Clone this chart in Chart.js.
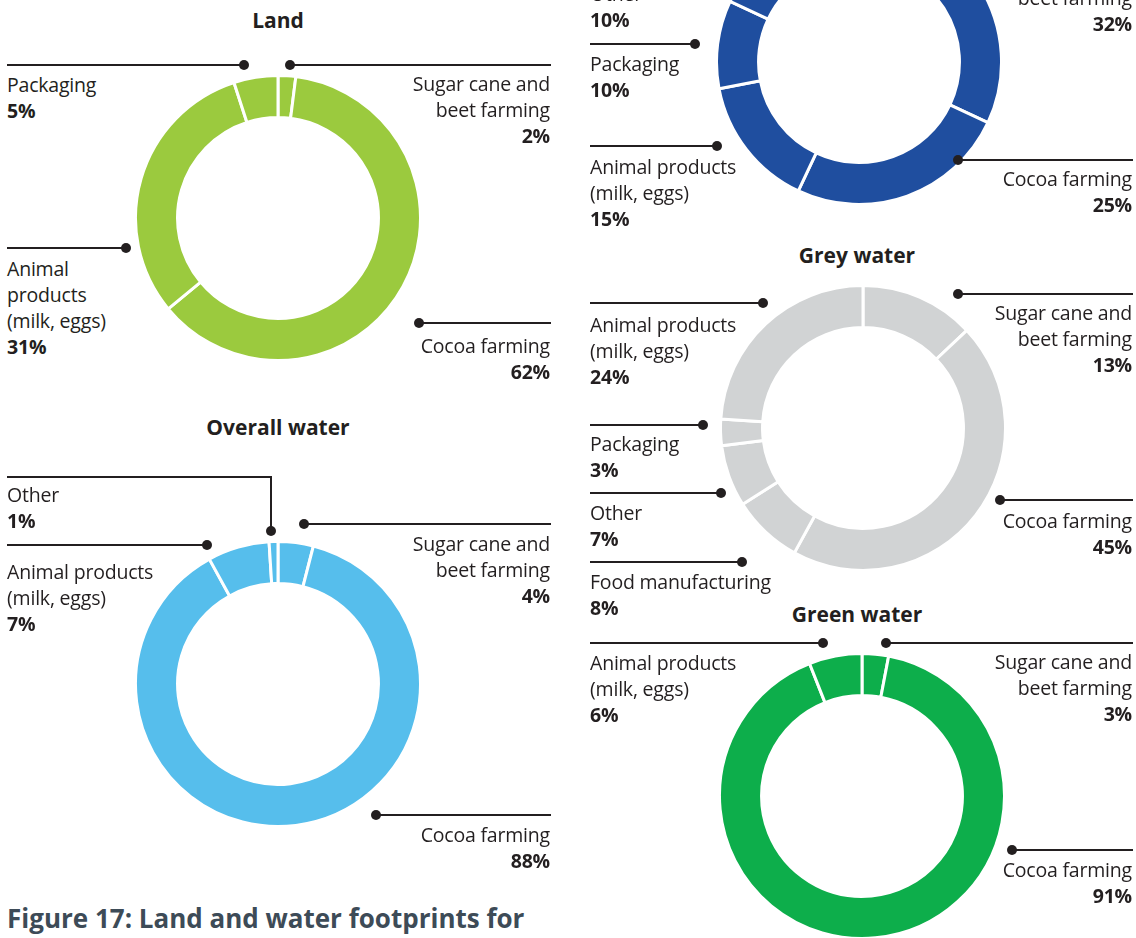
<html>
<head>
    <meta charset="utf-8" />
    <title>Land and water footprints</title>
    <script src="https://cdn.jsdelivr.net/npm/chart.js"></script>
    <style>
        body { margin: 0; background: #fff; }
        #page { position: relative; width: 1136px; height: 938px; overflow: hidden;
                font-family: 'Open Sans', sans-serif; color: #231f20; }
        canvas { position: absolute; }
        .txt { position: absolute; font-size: 19.5px; line-height: 26px; white-space: pre; letter-spacing: -0.2px; }
        .title { position: absolute; font-weight: 700; font-size: 21px; line-height: 26px;
                 transform: translateX(-50%); white-space: pre; }
        .ln { position: absolute; height: 2px; background: #231f20; }
        .vl { position: absolute; width: 2px; background: #231f20; }
        .dot { position: absolute; width: 10px; height: 10px; border-radius: 50%; background: #231f20; }
        #caption { position: absolute; left: 7px; top: 900px; font-size: 26px; font-weight: 700;
                   color: #3d4b57; white-space: pre; }
    </style>
</head>
<body>
<div id="page">
    <div id="caption">Figure 17: Land and water footprints for</div>
</div>

<script>
    // values in % of each footprint, clockwise from 12 o'clock
    const landLabels = ['Sugar cane and\nbeet farming', 'Cocoa farming', 'Animal\nproducts\n(milk, eggs)', 'Packaging'];
    const landValues = [2, 62, 31, 5];

    const overallLabels = ['Sugar cane and\nbeet farming', 'Cocoa farming', 'Animal products\n(milk, eggs)', 'Other'];
    const overallValues = [4, 88, 7, 1];

    const blueLabels = ['Sugar cane and\nbeet farming', 'Cocoa farming', 'Animal products\n(milk, eggs)', 'Packaging', 'Other', 'Food manufacturing'];
    const blueValues = [32, 25, 15, 10, 10, 8];

    const greyLabels = ['Sugar cane and\nbeet farming', 'Cocoa farming', 'Food manufacturing', 'Other', 'Packaging', 'Animal products\n(milk, eggs)'];
    const greyValues = [13, 45, 8, 7, 3, 24];

    const greenLabels = ['Sugar cane and\nbeet farming', 'Cocoa farming', 'Animal products\n(milk, eggs)'];
    const greenValues = [3, 91, 6];

    // label placement: side (l/r), text x, first line y, leader y, dot x, [elbow y]
    const charts = [
        { labels: landLabels, values: landValues, color: '#9bca3e', cx: 278, cy: 218,
          title: 'Land', titleX: 278, titleY: 20,
          place: [['r', 550, 84, 65, 290], ['r', 550, 346, 323, 419], ['l', 7, 269, 248, 126], ['l', 7, 85, 65, 244]] },
        { labels: overallLabels, values: overallValues, color: '#56beec', cx: 278, cy: 684,
          title: 'Overall water', titleX: 278, titleY: 427,
          place: [['r', 550, 544, 524, 304], ['r', 550, 835, 815, 376], ['l', 7, 572, 545, 207], ['l', 7, 495, 477, 271, 531]] },
        { labels: blueLabels, values: blueValues, color: '#1f4e9f', cx: 859, cy: 62,
          title: null,
          place: [['r', 1132, -28, -48, 960], ['r', 1132, 179, 160, 958], ['l', 590, 167, 146, 717],
                  ['l', 590, 64, 44, 695], ['l', 590, -6, -26, 730], ['l', 590, -75, -95, 790]] },
        { labels: greyLabels, values: greyValues, color: '#d1d3d4', cx: 863, cy: 428,
          title: 'Grey water', titleX: 857, titleY: 255,
          place: [['r', 1132, 313, 294, 958], ['r', 1132, 521, 500, 1000], ['l', 590, 582, 562, 742],
                  ['l', 590, 513, 493, 721], ['l', 590, 444, 425, 703], ['l', 590, 325, 303, 763]] },
        { labels: greenLabels, values: greenValues, color: '#0dae4b', cx: 862, cy: 796,
          title: 'Green water', titleX: 857, titleY: 614,
          place: [['r', 1132, 662, 643, 886], ['r', 1132, 870, 850, 1012], ['l', 590, 663, 643, 823]] }
    ];

    const page = document.getElementById('page');
    const SIZE = 288;

    function el(cls, css) {
        const d = document.createElement('div');
        d.className = cls;
        Object.assign(d.style, css);
        page.appendChild(d);
        return d;
    }

    charts.forEach(c => {
        const cv = document.createElement('canvas');
        cv.width = SIZE;
        cv.height = SIZE;
        cv.style.left = (c.cx - SIZE / 2) + 'px';
        cv.style.top = (c.cy - SIZE / 2) + 'px';
        page.appendChild(cv);

        new Chart(cv, {
            type: 'doughnut',
            data: {
                labels: c.labels,
                datasets: [{
                    data: c.values,
                    backgroundColor: c.color,
                    borderColor: '#fff',
                    borderWidth: 3,
                }]
            },
            options: {
                responsive: false,
                animation: false,
                cutout: '70.5%',
                layout: { padding: 0 },
                plugins: { legend: { display: false }, tooltip: { enabled: false } }
            }
        });

        if (c.title) {
            el('title', { left: c.titleX + 'px', top: (c.titleY - 13) + 'px' }).textContent = c.title;
        }

        c.place.forEach((p, i) => {
            const [side, x, y0, ly, dx, elbowY] = p;
            const t = el('txt', { top: (y0 - 13) + 'px' });
            if (side === 'l') {
                t.style.left = x + 'px';
            } else {
                t.style.right = (1136 - x) + 'px';
                t.style.textAlign = 'right';
            }
            t.innerHTML = c.labels[i].replace(/\n/g, '<br>') + '<br><b>' + c.values[i] + '%</b>';

            const x1 = side === 'l' ? x : dx;
            const x2 = side === 'l' ? dx : x;
            el('ln', { left: x1 + 'px', top: (ly - 1) + 'px', width: (x2 - x1 + 1) + 'px' });
            let dotY = ly;
            if (elbowY) {
                el('vl', { left: (dx - 1) + 'px', top: ly + 'px', height: (elbowY - ly) + 'px' });
                dotY = elbowY;
            }
            el('dot', { left: (dx - 5) + 'px', top: (dotY - 5) + 'px' });
        });
    });
</script>
</body>
</html>
